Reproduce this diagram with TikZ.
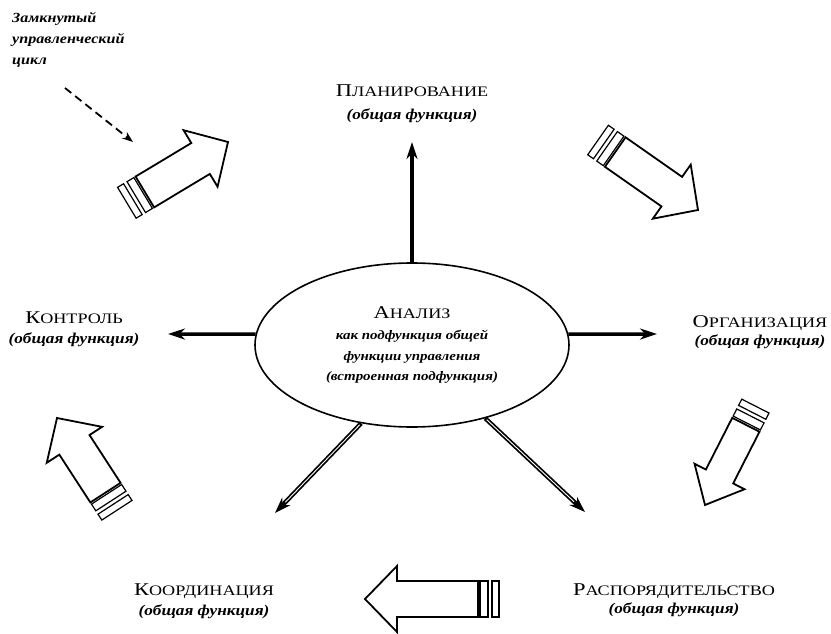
\documentclass[tikz,border=0pt]{standalone}
\usepackage{fontspec}
\setmainfont{Liberation Serif}
\newfontfamily\capsfont{Liberation Serif}[FakeStretch=1.25]
\newfontfamily\slantfont{Liberation Serif}[FakeStretch=1.15]
\usetikzlibrary{arrows.meta, positioning, shapes.geometric}
\newcommand{\capword}[2]{{\fontsize{18}{20}\selectfont #1}{\fontsize{14.5}{20}\selectfont #2}}
\tikzset{
  funcname/.style={inner sep=0pt, anchor=base, font=\capsfont},
  funcnote/.style={inner sep=0pt, font=\slantfont\bfseries\itshape\fontsize{15}{16}\selectfont},
  notetext/.style={inner sep=0pt, align=left, font=\slantfont\bfseries\itshape\fontsize{14}{21}\selectfont},
  analysis/.style={ellipse, draw, line width=1.6pt, minimum width=314pt, minimum height=164pt,
                   inner sep=0pt, align=center, font=\slantfont\bfseries\itshape\fontsize{13}{20.5}\selectfont},
  spoke/.style={line width=3.5pt, -{Stealth[length=17pt, width=11pt]}},
  dspoke/.style={line width=4.4pt, -{Stealth[length=16pt, width=11pt]},
                 postaction={draw=white, line width=0.9pt, -, shorten >=15pt, shorten <=2pt}},
  notearrow/.style={line width=1.8pt, dash pattern=on 8pt off 5pt, -{Stealth[length=11pt, width=8pt]}},
  cycleline/.style={draw, fill=white, line width=1.8pt, line join=miter},
  capline/.style={draw, line width=1.2pt},
}
% big hollow arrow: tip, direction, length
\newcommand{\cyclearrow}[4][]{%
  \begin{scope}[shift={#2}, rotate=#3, #1]
    \draw[cycleline] (0,0) -- (-32,33) -- (-32,18) -- (21-#4,18) -- (21-#4,-18)
      -- (-32,-18) -- (-32,-33) -- cycle;
    \draw[capline] (19-#4,18) rectangle (11-#4,-18);
    \draw[capline] (7-#4,18) rectangle (-#4,-18);
  \end{scope}}
\begin{document}
\begin{tikzpicture}[x=1pt, y=-1pt]
  \useasboundingbox (0,0) rectangle (831,634);

  % note in the corner
  \node[notetext, anchor=north west] (note) at (12,12) {Замкнутый\\управленческий\\цикл};
  \coordinate (dashstart) at (65,88);
  \coordinate (dashend) at (133,142);
  \draw[notearrow] (dashstart) -- (dashend);

  % analysis in the middle
  \node[analysis] (ell) at (412,345)
    {{\mdseries\upshape\capsfont\capword{А}{НАЛИЗ}}\\[1pt]как подфункция общей\\функции управления\\(встроенная подфункция)};

  % general functions
  \node[funcname] (plan) at (412,97) {\capword{П}{ЛАНИРОВАНИЕ}};
  \node[funcnote, below=12pt of plan.base] (plansub) {(общая функция)};
  \node[funcname] (kontrol) at (74,323) {\capword{К}{ОНТРОЛЬ}};
  \node[funcnote, below=10pt of kontrol.base] (kontrolsub) {(общая функция)};
  \node[funcname] (org) at (760,327) {\capword{О}{РГАНИЗАЦИЯ}};
  \node[funcnote, below=8pt of org.base] (orgsub) {(общая функция)};
  \node[funcname] (koord) at (204,595) {\capword{К}{ООРДИНАЦИЯ}};
  \node[funcnote, below=10pt of koord.base] (koordsub) {(общая функция)};
  \node[funcname] (rasp) at (674,595) {\capword{Р}{АСПОРЯДИТЕЛЬСТВО}};
  \node[funcnote, below=8pt of rasp.base] (raspsub) {(общая функция)};

  % spokes
  \coordinate (plantip) at (412,142);
  \coordinate (kontroltip) at (168,334);
  \coordinate (orgtip) at (657,334);
  \coordinate (koordtip) at (275,513);
  \coordinate (rasptip) at (585,512);
  \draw[spoke] (ell.north) -- (plantip);
  \draw[spoke] (ell.176) -- (kontroltip);
  \draw[spoke] (ell.4) -- (orgtip);
  \draw[dspoke] (ell.237) -- (koordtip);
  \draw[dspoke] (ell.315) -- (rasptip);

  % management cycle
  \cyclearrow{(228,142)}{31}{118}
  \cyclearrow{(698,210)}{-35}{122}
  \cyclearrow[yscale=0.85]{(705,505)}{-117}{111}
  \cyclearrow{(365,599)}{180}{134}
  \cyclearrow{(57,418)}{123}{110}
\end{tikzpicture}
\end{document}
